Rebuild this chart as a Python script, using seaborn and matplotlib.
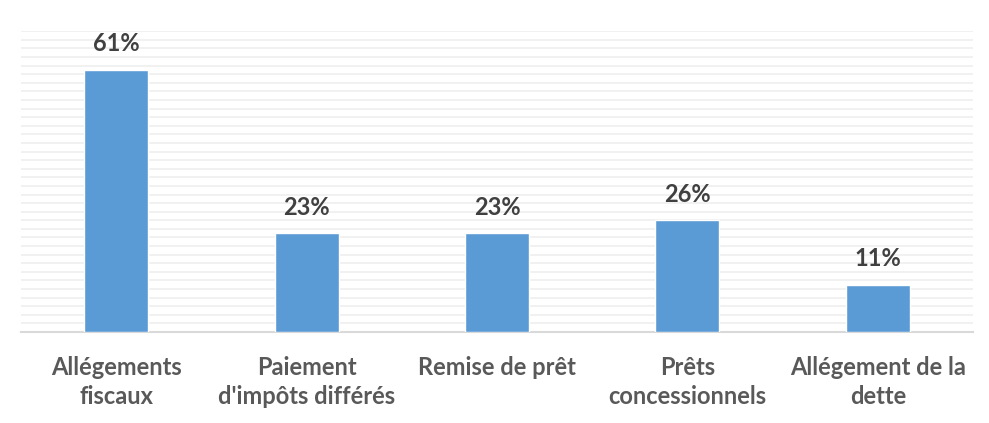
import pandas as pd
import numpy as np
import matplotlib.pyplot as plt
import seaborn as sns

# --- Données ---
categories = ['Allégements\nfiscaux', "Paiement\nd'impôts différés", 'Remise de prêt',
              'Prêts\nconcessionnels', 'Allégement de la\ndette']
valeurs = [61, 23, 23, 26, 11]
etiquettes = ['61%', '23%', '23%', '26%', '11%']

df = pd.DataFrame({'categorie': categories, 'valeur': valeurs})

sns.set_theme(style="white")
plt.rcParams['font.family'] = ['Lato', 'DejaVu Sans']

fig = plt.figure(figsize=(9.89, 4.23), dpi=100)
ax = fig.add_axes([0.0212, 0.215, 0.9626, 0.7113])

sns.barplot(data=df, x='categorie', y='valeur', color='#5B9BD5', width=0.336,
            saturation=1, ax=ax, zorder=3)

ax.set_ylim(0, 70)
ax.set_yticks(np.arange(2, 71, 2))
ax.yaxis.grid(True, color='#EFEFEF', linewidth=1.2, zorder=0)
ax.set_yticklabels([])
ax.tick_params(axis='y', length=0)
ax.tick_params(axis='x', length=0, pad=17)

for s in ['top', 'right', 'left']:
    ax.spines[s].set_visible(False)
ax.spines['bottom'].set_color('#D9D9D9')
ax.spines['bottom'].set_linewidth(1.5)

ax.set_xlabel('')
ax.set_ylabel('')
for lab in ax.get_xticklabels():
    lab.set_fontsize(17)
    lab.set_fontweight('bold')
    lab.set_color('#595959')
    lab.set_linespacing(1.35)

for i, (v, t) in enumerate(zip(valeurs, etiquettes)):
    ax.text(i, v + 3.4, t, ha='center', va='bottom', fontsize=17,
            fontweight='bold', color='#404040')

fig.savefig('out.png', dpi=100)
